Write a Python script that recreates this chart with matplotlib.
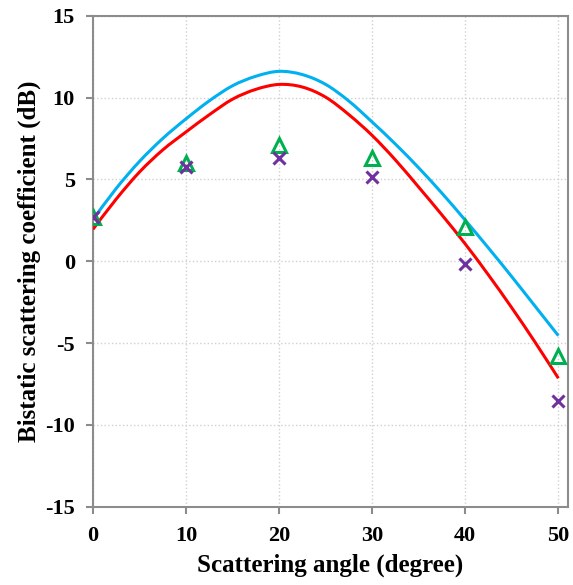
import matplotlib
matplotlib.use("Agg")
import matplotlib.pyplot as plt
from matplotlib.path import Path
from matplotlib.patches import PathPatch

# curve data
angle_curve = [0, 2.5, 5, 7.5, 10, 12.5, 15, 17.5, 20, 22.5, 25,
               27.5, 30, 32.5, 35, 37.5, 40, 42.5, 45, 47.5, 50]
blue_curve = [2.55, 4.45, 6.1, 7.5, 8.7, 9.8, 10.72, 11.3, 11.6, 11.4, 10.8,
              9.78, 8.5, 7.15, 5.7, 4.15, 2.5, 0.8, -0.95, -2.75, -4.55]
red_curve = [1.95, 3.8, 5.45, 6.8, 7.9, 8.95, 9.9, 10.5, 10.8, 10.64, 10.02,
             8.95, 7.68, 6.18, 4.52, 2.82, 1.05, -0.85, -2.85, -4.95, -7.15]

# measured points
angle_pts = [0, 10, 20, 30, 40, 50]
triangle_pts = [2.7, 6.0, 7.1, 6.3, 2.1, -5.8]
cross_pts = [2.7, 5.75, 6.3, 5.15, -0.15, -8.55]


def smooth_path(xs, ys):
    # smoothed line like a spreadsheet chart: cubic Bezier through the points
    n = len(xs)
    verts = [(xs[0], ys[0])]
    codes = [Path.MOVETO]
    for i in range(n - 1):
        i0 = max(i - 1, 0)
        i3 = min(i + 2, n - 1)
        c1 = (xs[i] + (xs[i + 1] - xs[i0]) / 6, ys[i] + (ys[i + 1] - ys[i0]) / 6)
        c2 = (xs[i + 1] - (xs[i3] - xs[i]) / 6, ys[i + 1] - (ys[i3] - ys[i]) / 6)
        verts += [c1, c2, (xs[i + 1], ys[i + 1])]
        codes += [Path.CURVE4] * 3
    return Path(verts, codes)


plt.rcParams['font.family'] = ['Liberation Serif', 'DejaVu Serif']
plt.rcParams['font.weight'] = 'bold'
plt.rcParams['axes.unicode_minus'] = False

fig = plt.figure(figsize=(5.73, 5.85), dpi=100)
ax = fig.add_axes([0.1623, 0.1338, 0.8284, 0.8394])

ax.add_patch(PathPatch(smooth_path(angle_curve, blue_curve), fill=False,
                       edgecolor='#00B0F0', lw=2.2, zorder=3))
ax.add_patch(PathPatch(smooth_path(angle_curve, red_curve), fill=False,
                       edgecolor='#FF0000', lw=2.2, zorder=3))
ax.plot(angle_pts, triangle_pts, linestyle='none', marker='^', ms=10,
        mfc='none', mec='#00B050', mew=2.2, zorder=4)
ax.plot(angle_pts, cross_pts, linestyle='none', marker='x', ms=9,
        mec='#7030A0', mew=2.2, zorder=5)

ax.set_xlim(0, 51)
ax.set_ylim(-15, 15)
ax.set_xticks(range(0, 51, 10))
ax.set_yticks(range(-15, 16, 5))
ax.grid(True, color='#d0d0d0', linestyle=':', linewidth=1)
ax.set_axisbelow(True)

for s in ax.spines.values():
    s.set_color('#8c8c8c')
    s.set_linewidth(1.5)
ax.tick_params(axis='both', direction='out', length=5, width=1.5,
               color='#8c8c8c', labelsize=16)
ax.tick_params(axis='x', pad=9)
ax.tick_params(axis='y', pad=8)
for lab in ax.get_xticklabels() + ax.get_yticklabels():
    lab.set_fontweight('bold')

ax.set_xlabel('Scattering angle (degree)', fontsize=18, fontweight='bold', labelpad=5)
ax.set_ylabel('Bistatic scattering coefficient (dB)', fontsize=18,
              fontweight='bold', labelpad=3)

fig.savefig('out.png', dpi=100)
